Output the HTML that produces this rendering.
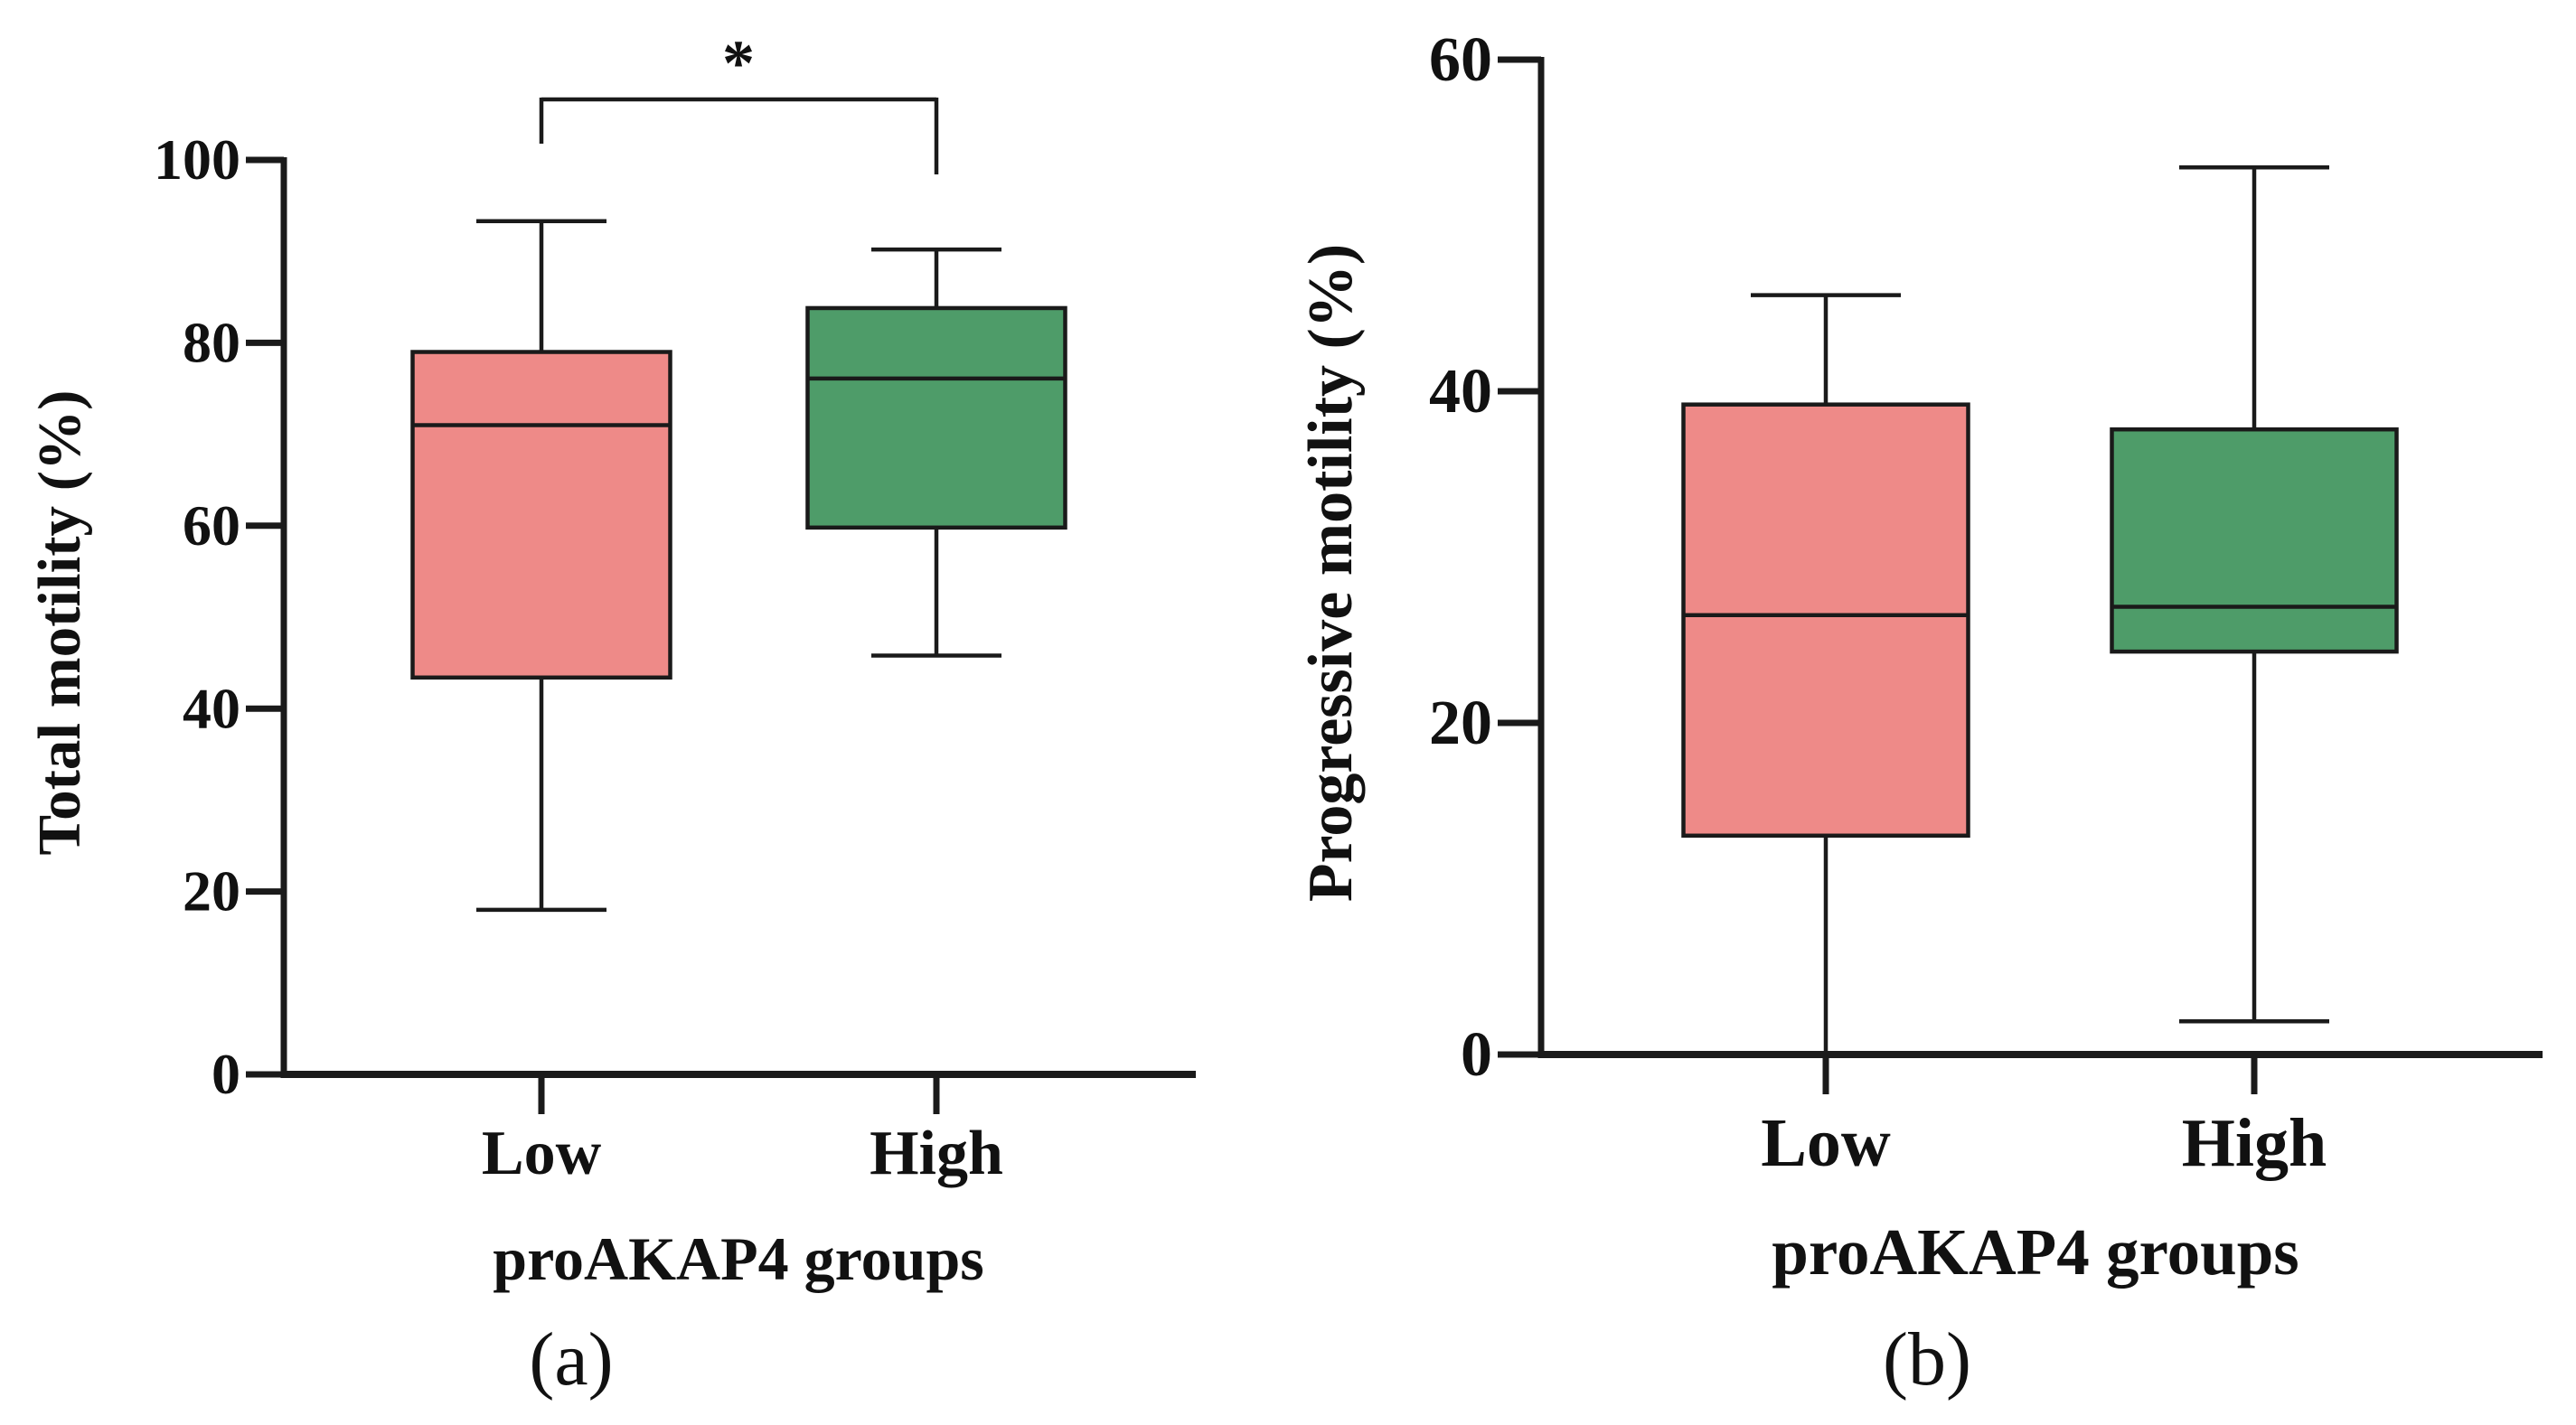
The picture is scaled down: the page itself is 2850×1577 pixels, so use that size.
<!DOCTYPE html>
<html><head><meta charset="utf-8"><style>
html,body{margin:0;padding:0;background:#fff;}
svg{display:block;}
text{font-family:"Liberation Serif",serif;fill:#111;}
</style></head><body>
<svg id="chart" width="2850" height="1577" viewBox="0 0 2850 1577" xmlns="http://www.w3.org/2000/svg"></svg>
<script>
// Panel (a) data: total motility
const categoriesA = ["Low", "High"];
const minA = [18, 45.8];
const q1A = [43.4, 59.8];
const medianA = [71, 76.1];
const q3A = [79, 83.8];
const maxA = [93.3, 90.2];
const ticksA = [0, 20, 40, 60, 80, 100];
// Panel (b) data: progressive motility
const categoriesB = ["Low", "High"];
const minB = [0, 2];
const q1B = [13.2, 24.3];
const medianB = [26.5, 27];
const q3B = [39.2, 37.7];
const maxB = [45.8, 53.5];
const ticksB = [0, 20, 40, 60];
const colors = ["#EE8A88", "#4E9C69"];

const NS = "http://www.w3.org/2000/svg";
const svg = document.getElementById("chart");
function mk(tag, attrs, parent, txt){
  const e = document.createElementNS(NS, tag);
  for (const k in attrs) e.setAttribute(k, attrs[k]);
  if (txt !== undefined) e.textContent = txt;
  (parent || svg).appendChild(e);
  return e;
}
function line(g,x1,y1,x2,y2,w,name){
  const l = mk("line",{x1,y1,x2,y2,stroke:"#1a1a1a","stroke-width":w},g);
  
  
  return l;
}

function panel(cfg){
  const g = mk("g",{});
  
  
  const y = v => cfg.y0 + (v - cfg.vmin) / (cfg.vmax - cfg.vmin) * (cfg.yTop - cfg.y0);
  line(g, cfg.ax, y(cfg.vmax)-3, cfg.ax, cfg.y0+3.5, 7, "y-axis");
  line(g, cfg.ax-3.5, cfg.y0, cfg.axEnd, cfg.y0, 8, "x-axis");
  cfg.ticks.forEach(t=>{
    line(g, cfg.ax-cfg.tickLen, y(t), cfg.ax, y(t), 7, "y-tick");
    const tx = mk("text",{x:cfg.ax-cfg.tickLen-6,y:y(t)+cfg.tickFont*0.33,"text-anchor":"end","font-size":cfg.tickFont,"font-weight":"bold"},g,String(t));
    
    
  });
  cfg.cats.forEach((c,i)=>{
    const cx = cfg.xs[i];
    line(g, cx, cfg.y0, cx, cfg.y0+44, 7, "x-tick");
    const tl = mk("text",{x:cx,y:cfg.labelY,"text-anchor":"middle","font-size":cfg.labelFont,"font-weight":"bold"},g,c);
    
    
    line(g, cx, y(cfg.max[i]), cx, y(cfg.q3[i]), 4.5, "whisker-upper");
    line(g, cx, y(cfg.q1[i]), cx, y(cfg.min[i]), 4.5, "whisker-lower");
    line(g, cx-cfg.cap, y(cfg.max[i]), cx+cfg.cap, y(cfg.max[i]), 4.5, "whisker-cap-max");
    if (cfg.min[i] > cfg.vmin) line(g, cx-cfg.cap, y(cfg.min[i]), cx+cfg.cap, y(cfg.min[i]), 4.5, "whisker-cap-min");
    const r = mk("rect",{x:cx-cfg.bw/2,y:y(cfg.q3[i]),width:cfg.bw,height:y(cfg.q1[i])-y(cfg.q3[i]),fill:colors[i],stroke:"#1a1a1a","stroke-width":4.5},g);
    
    
    line(g, cx-cfg.bw/2, y(cfg.median[i]), cx+cfg.bw/2, y(cfg.median[i]), 4.5, "median-" + c.toLowerCase());
  });
  const yt = mk("text",{x:0,y:0,"text-anchor":"middle","font-size":cfg.titleFont,"font-weight":"bold",transform:`translate(${cfg.titleX},${cfg.titleY}) rotate(-90)`},g,cfg.ytitle);
  
  
  const xt = mk("text",{x:cfg.xtX,y:cfg.xtY,"text-anchor":"middle","font-size":cfg.xtFont,"font-weight":"bold"},g,"proAKAP4 groups");
  
  
  const pl = mk("text",{x:cfg.plX,y:cfg.plY,"text-anchor":"middle","font-size":84},g,cfg.plabel);
  
  
  return y;
}

panel({name:"panel-a", ax:314, axEnd:1323, y0:1189, yTop:177, vmin:0, vmax:100,
  ticks:ticksA, tickLen:42, tickFont:64, cats:categoriesA, xs:[599,1036], bw:285, cap:72,
  min:minA, q1:q1A, median:medianA, q3:q3A, max:maxA,
  labelY:1299, labelFont:70, ytitle:"Total motility (%)", titleFont:67, titleX:88, titleY:689,
  xtX:817, xtY:1416, xtFont:68, plX:632, plY:1532, plabel:"(a)"});

const br = mk("g",{});


line(br, 599, 110, 1036, 110, 4.5, "bracket-top");
line(br, 599, 108, 599, 159, 4.5, "bracket-left");
line(br, 1036, 108, 1036, 193, 4.5, "bracket-right");
const st = mk("text",{x:817,y:94,"text-anchor":"middle","font-size":72,"font-weight":"bold"},br,"*");



panel({name:"panel-b", ax:1705, axEnd:2813, y0:1167, yTop:66, vmin:0, vmax:60,
  ticks:ticksB, tickLen:48, tickFont:70, cats:categoriesB, xs:[2020,2494], bw:315, cap:83,
  min:minB, q1:q1B, median:medianB, q3:q3B, max:maxB,
  labelY:1290, labelFont:76, ytitle:"Progressive motility (%)", titleFont:70, titleX:1495, titleY:634,
  xtX:2252, xtY:1410, xtFont:73, plX:2132, plY:1532, plabel:"(b)"});
</script>
</body></html>
